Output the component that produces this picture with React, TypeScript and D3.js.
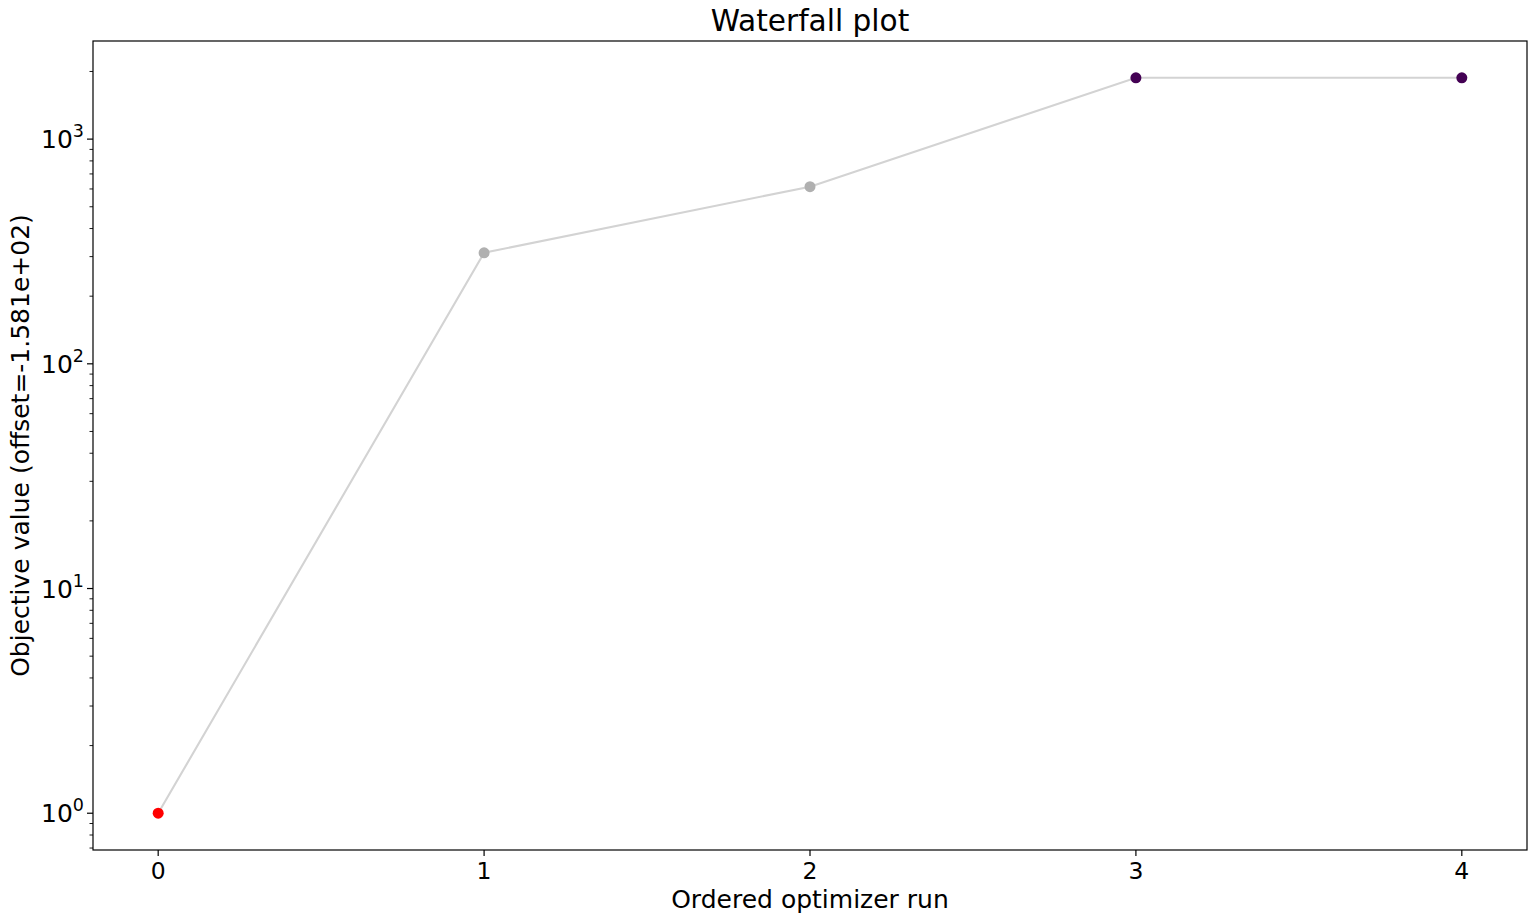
import React, { useEffect, useRef } from "react";
import * as d3 from "d3";

// ordered optimizer runs and their objective values (offset applied)
const runs = [0, 1, 2, 3, 4];
const values = [1, 312, 614, 1875, 1875];
const pointColors = ["#ff0000", "#b0b0b0", "#b0b0b0", "#440154", "#440154"];
const yTickExps = [0, 1, 2, 3];
const xTicks = [0, 1, 2, 3, 4];

const W = 1536;
const H = 923;
const margin = { top: 41, right: 9, bottom: 73, left: 93 };

const App = () => {
  const ref = useRef<SVGSVGElement | null>(null);

  useEffect(() => {
    if (!ref.current) return;
    const svg = d3.select(ref.current);
    svg.selectAll("*").remove();

    const font = "DejaVu Sans, sans-serif";
    const x0 = margin.left;
    const x1 = W - margin.right;
    const y0 = margin.top;
    const y1 = H - margin.bottom;

    const x = d3.scaleLinear().domain([-0.2, 4.2]).range([x0, x1]);
    const lmax = Math.log10(d3.max(values)!);
    const pad = lmax * 0.05;
    const y = d3
      .scaleLog()
      .domain([Math.pow(10, -pad), Math.pow(10, lmax + pad)])
      .range([y1, y0]);

    svg.attr("width", W).attr("height", H);
    svg.append("rect").attr("width", W).attr("height", H).attr("fill", "#fff");

    const g = svg.append("g");

    // line
    const line = d3
      .line<number>()
      .x((d, i) => x(runs[i]))
      .y((d) => y(d));
    g.append("path")
      .datum(values)
      .attr("d", line)
      .attr("fill", "none")
      .attr("stroke", "#d3d3d3")
      .attr("stroke-width", 2.1);

    // points
    g.selectAll(".pt")
      .data(values)
      .enter()
      .append("circle")
      .attr("class", "pt")
      .attr("cx", (d, i) => x(runs[i]))
      .attr("cy", (d) => y(d))
      .attr("r", 5.5)
      .attr("fill", (d, i) => pointColors[i]);

    // frame
    g.append("rect")
      .attr("x", x0)
      .attr("y", y0)
      .attr("width", x1 - x0)
      .attr("height", y1 - y0)
      .attr("fill", "none")
      .attr("stroke", "#000")
      .attr("stroke-width", 1.2);

    // x ticks
    const xt = g.append("g");
    xTicks.forEach((t) => {
      xt.append("line")
        .attr("x1", x(t))
        .attr("x2", x(t))
        .attr("y1", y1)
        .attr("y2", y1 + 6)
        .attr("stroke", "#000")
        .attr("stroke-width", 1.2);
      xt.append("text")
        .attr("x", x(t))
        .attr("y", y1 + 29)
        .attr("text-anchor", "middle")
        .attr("font-family", font)
        .attr("font-size", 23.5)
        .text(String(t));
    });

    // y major ticks
    const yt = g.append("g");
    yTickExps.forEach((e) => {
      const v = Math.pow(10, e);
      yt.append("line")
        .attr("x1", x0 - 6)
        .attr("x2", x0)
        .attr("y1", y(v))
        .attr("y2", y(v))
        .attr("stroke", "#000")
        .attr("stroke-width", 1.2);
      const txt = yt
        .append("text")
        .attr("x", x0 - 9)
        .attr("y", y(v) + 9)
        .attr("text-anchor", "end")
        .attr("font-family", font)
        .attr("font-size", 25);
      txt.append("tspan").text("10");
      txt
        .append("tspan")
        .attr("dy", -11)
        .attr("font-size", 17.5)
        .text(String(e));
    });

    // y minor ticks
    const [dmin, dmax] = y.domain();
    for (let e = -1; e <= 4; e++) {
      for (let m = 2; m <= 9; m++) {
        const v = m * Math.pow(10, e);
        if (v < dmin || v > dmax) continue;
        yt.append("line")
          .attr("x1", x0 - 3.5)
          .attr("x2", x0)
          .attr("y1", y(v))
          .attr("y2", y(v))
          .attr("stroke", "#000")
          .attr("stroke-width", 0.9);
      }
    }

    // labels
    svg
      .append("text")
      .attr("x", (x0 + x1) / 2)
      .attr("y", 31)
      .attr("text-anchor", "middle")
      .attr("font-family", font)
      .attr("font-size", 29.6)
      .text("Waterfall plot");

    svg
      .append("text")
      .attr("x", (x0 + x1) / 2)
      .attr("y", 908)
      .attr("text-anchor", "middle")
      .attr("font-family", font)
      .attr("font-size", 25)
      .text("Ordered optimizer run");

    svg
      .append("text")
      .attr("transform", `translate(29, ${(y0 + y1) / 2}) rotate(-90)`)
      .attr("text-anchor", "middle")
      .attr("font-family", font)
      .attr("font-size", 25)
      .text("Objective value (offset=-1.581e+02)");
  }, []);

  return (
    <div style={{ position: "absolute", left: 0, top: 0 }}>
      <svg ref={ref} style={{ display: "block" }}></svg>
    </div>
  );
};

export default App;
